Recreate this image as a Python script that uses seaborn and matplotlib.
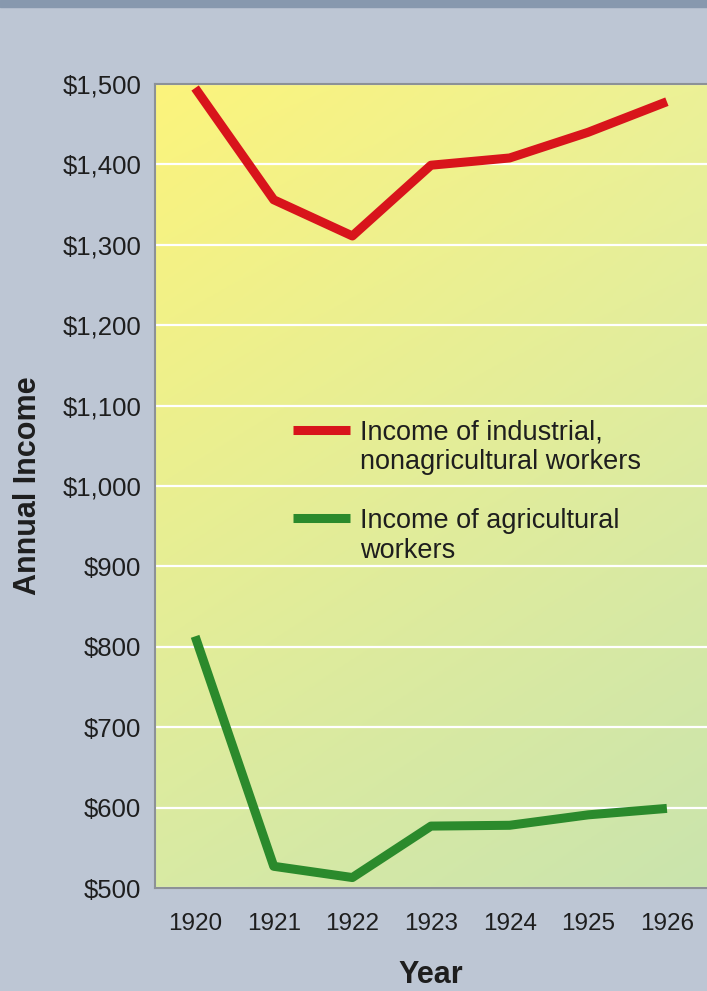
import numpy as np
import pandas as pd
import matplotlib
matplotlib.use("Agg")
import matplotlib.pyplot as plt
from matplotlib.colors import to_rgb
import seaborn as sns

# data
years = [1920, 1921, 1922, 1923, 1924, 1925, 1926]
industrial = [1495, 1356, 1311, 1399, 1408, 1440, 1478]
agricultural = [813, 527, 513, 577, 578, 591, 599]
series_names = ["Income of industrial,\nnonagricultural workers",
                "Income of agricultural\nworkers"]
y_ticks = [500, 600, 700, 800, 900, 1000, 1100, 1200, 1300, 1400, 1500]

df = pd.DataFrame({
    "Year": years * 2,
    "Income": industrial + agricultural,
    "series": [series_names[0]] * len(years) + [series_names[1]] * len(years),
})

sns.set_theme(style="white")
plt.rcParams["font.family"] = ["Liberation Sans", "DejaVu Sans"]

fig = plt.figure(figsize=(7.07, 9.91), dpi=100, facecolor="#bdc6d4")
ax = fig.add_axes([155 / 707, 103 / 991, 552 / 707, 804 / 991])

# darker strip across the top edge
fig.patches.append(plt.Rectangle((0, 1 - 7 / 991), 1, 7 / 991, transform=fig.transFigure,
                                 color="#8798ae", zorder=0))

# yellow-to-green background gradient inside the plot area
tl, tr = np.array(to_rgb("#fcf47c")), np.array(to_rgb("#ecf197"))
bl, br = np.array(to_rgb("#d8eaa4")), np.array(to_rgb("#cae4ad"))
u = np.linspace(0, 1, 200)[None, :, None]
v = np.linspace(0, 1, 200)[:, None, None]
grad = (1 - v) * ((1 - u) * tl + u * tr) + v * ((1 - u) * bl + u * br)
ax.imshow(grad, extent=[0, 1, 0, 1], transform=ax.transAxes, aspect="auto", zorder=0)

sns.lineplot(data=df, x="Year", y="Income", hue="series",
             palette=["#d8141b", "#2b8a2c"], linewidth=6.5, ax=ax, zorder=3,
             solid_capstyle="butt")

ax.set_xlim(1919.49, 1926.51)
ax.set_ylim(500, 1500)
ax.set_xticks(years)
ax.set_yticks(y_ticks)
ax.set_yticklabels([f"${v:,}" for v in y_ticks])
ax.grid(axis="y", color="white", linewidth=1.6)
for g in ax.get_ygridlines():
    g.set_zorder(2)
for side in ["left", "bottom", "top"]:
    ax.spines[side].set_color("#8c9197")
    ax.spines[side].set_linewidth(1.5)
ax.spines["right"].set_visible(False)

ax.tick_params(axis="both", length=0, colors="#1e1e1e")
ax.tick_params(axis="y", pad=10, labelsize=18.5)
ax.tick_params(axis="x", pad=18, labelsize=17.5)

ax.set_xlabel("Year", fontsize=22, fontweight="bold", color="#1e1e1e", labelpad=18)
ax.set_ylabel("Annual Income", fontsize=22, fontweight="bold", color="#1e1e1e", labelpad=14)

leg = ax.legend(loc="upper left", bbox_to_anchor=(0.225, 0.6), frameon=False, borderpad=0,
                fontsize=19.5, handlelength=2.1, handletextpad=0.4, labelspacing=1.2)
for t in leg.get_texts():
    t.set_color("#1e1e1e")
    t.set_linespacing(1.2)
# sit the legend swatches level with the first line of each entry
for h in leg.get_lines():
    h.set_linewidth(6.5)
    h.set_ydata(np.asarray(h.get_ydata()) + 13)

fig.savefig("out.png", dpi=100, facecolor=fig.get_facecolor())
